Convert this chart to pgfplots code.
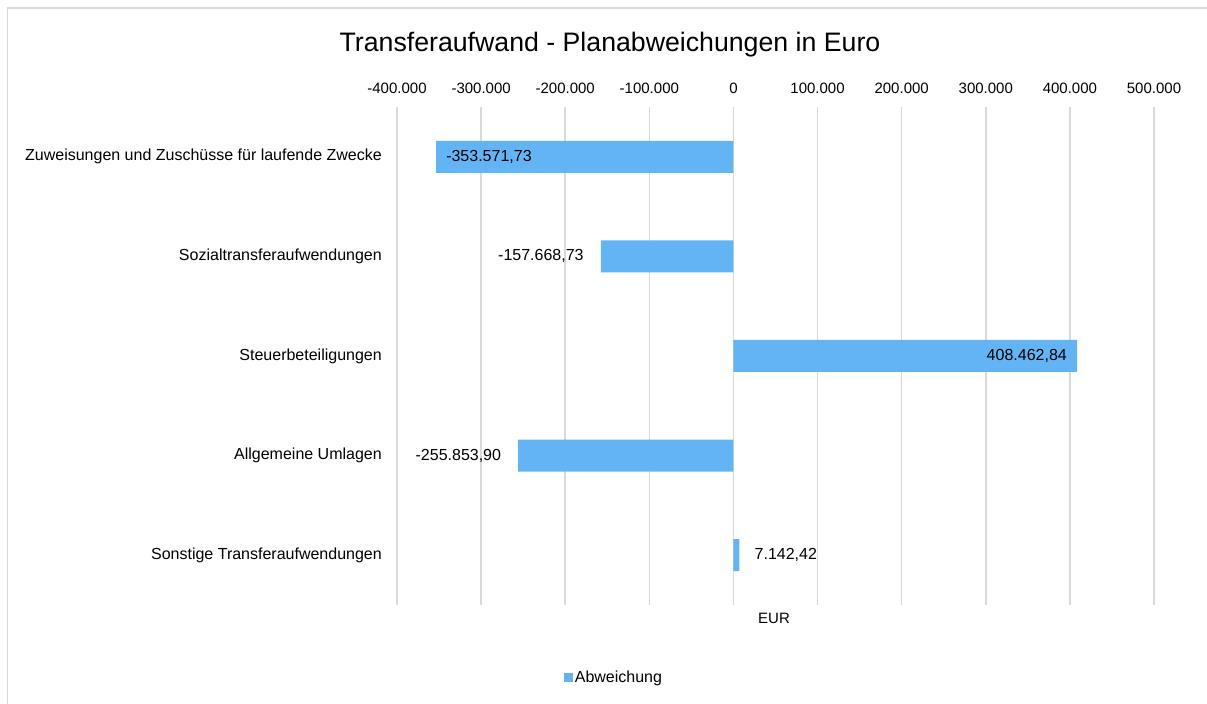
\documentclass[border=0pt]{standalone}
\usepackage{pgfplots}
\pgfplotsset{compat=1.18}
\usepackage{fontspec}
\setmainfont{Liberation Sans}
\definecolor{barc}{HTML}{63B4F5}
\definecolor{gridc}{HTML}{D9D9D9}
\newcommand{\fs}{\fontsize{15bp}{17bp}\selectfont}
\newcommand{\fl}{\fontsize{16bp}{18bp}\selectfont}
\begin{document}
\begin{tikzpicture}[x=1bp,y=1bp]
\useasboundingbox (0,0) rectangle (1207,704);
\draw[gridc,line width=1.5bp] (7.5,0) -- (7.5,696) -- (1207,696);
\node[font=\fontsize{26.7bp}{30bp}\selectfont] at (610,659) {Transferaufwand - Planabweichungen in Euro};
\node[font=\fs] at (774,86) {EUR};
\begin{axis}[at={(397bp,99bp)},anchor=south west,scale only axis,
 width=757bp,height=498bp,
 xmin=-400000,xmax=500000,ymin=0.5,ymax=5.5,y dir=reverse,
 scaled x ticks=false,
 axis line style={draw=none},major tick length=0pt,
 xtick={-400000,-300000,-200000,-100000,0,100000,200000,300000,400000,500000},
 xticklabels={-400.000,-300.000,-200.000,-100.000,0,100.000,200.000,300.000,400.000,500.000},
 xticklabel pos=right,
 xticklabel style={font=\fs,anchor=base,inner sep=0pt,yshift=13bp},
 ytick={1,2,3,4,5},
 yticklabels={Zuweisungen und Zuschüsse für laufende Zwecke,Sozialtransferaufwendungen,Steuerbeteiligungen,Allgemeine Umlagen,Sonstige Transferaufwendungen},
 yticklabel style={font=\fl,anchor=east,inner sep=0pt,xshift=-15bp},
 xmajorgrids,grid style={gridc,line width=1.5bp},
 legend style={at={(0.2866,-0.145)},anchor=center,draw=none,fill=none,font=\fl,inner sep=0pt,
   /tikz/every even column/.append style={column sep=0pt}},
 legend image code/.code={\fill[barc] (0bp,-4.5bp) rectangle (9bp,4.5bp);},
 clip=false]
\addplot[xbar,bar width=32bp,fill=barc,draw=none] coordinates {
 (-353571.73,1) (-157668.73,2) (408462.84,3) (-255853.90,4) (7142.42,5)};
\addlegendentry{Abweichung}
\begin{scope}[every node/.style={font=\fl,inner sep=0pt}]
\node[anchor=west] at (axis cs:-353571.73,1) [xshift=10bp] {-353.571,73};
\node[anchor=east] at (axis cs:-157668.73,2) [xshift=-17bp] {-157.668,73};
\node[anchor=east] at (axis cs:408462.84,3) [xshift=-10bp] {408.462,84};
\node[anchor=east] at (axis cs:-255853.90,4) [xshift=-17bp] {-255.853,90};
\node[anchor=west] at (axis cs:7142.42,5) [xshift=15bp] {7.142,42};
\end{scope}
\end{axis}
\end{tikzpicture}
\end{document}
